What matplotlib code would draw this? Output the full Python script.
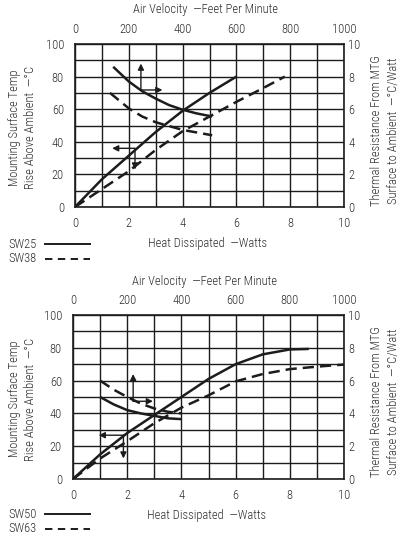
import matplotlib
matplotlib.use("Agg")
import matplotlib.pyplot as plt
from matplotlib.ticker import MultipleLocator

plt.rcParams['font.family'] = ['Roboto Condensed', 'Roboto', 'DejaVu Sans']
plt.rcParams['font.weight'] = 'light'

W, H = 400, 543
INK = '#1c1c1c'
TXT = '#2e2e2e'
FS = 9

# top panel: SW25 / SW38
watts_25 = [0, 1, 2, 3, 4, 5, 6]
temp_25 = [0, 17, 31.5, 46, 59, 70, 80]
watts_38 = [0, 1, 2, 3, 4, 5, 6, 7, 7.8]
temp_38 = [0, 11, 22, 35, 46.5, 55.5, 64.5, 73, 80]
fpm_25 = [142, 200, 250, 300, 350, 400, 450, 510]
res_25 = [8.6, 7.7, 7.1, 6.65, 6.25, 5.97, 5.75, 5.55]
fpm_38 = [130, 200, 250, 300, 400, 510]
res_38 = [7.0, 6.05, 5.55, 5.2, 4.73, 4.4]

# bottom panel: SW50 / SW63
watts_50 = [0, 1, 2, 3, 4, 5, 6, 7, 8, 8.7]
temp_50 = [0, 15, 28, 39, 50, 61, 70, 76, 79, 79.3]
watts_63 = [0, 1, 2, 3, 4, 5, 6, 7, 8, 9, 10]
temp_63 = [0, 12.5, 23, 34, 43.5, 51, 59.5, 64, 67, 68.5, 69.8]
fpm_50 = [100, 150, 200, 250, 300, 350, 400]
res_50 = [5.0, 4.55, 4.2, 4.0, 3.85, 3.7, 3.65]
fpm_63 = [100, 150, 200, 250, 300, 350, 400]
res_63 = [6.0, 5.45, 5.0, 4.6, 4.3, 4.1, 4.0]

watt_ticks = [0, 2, 4, 6, 8, 10]
temp_ticks = [0, 20, 40, 60, 80, 100]
fpm_ticks = [0, 200, 400, 600, 800, 1000]
res_ticks = [0, 2, 4, 6, 8, 10]

# arrow annotations: (start, end) in (watts, degC)
arrows_top = [((2.45, 71.8), (2.45, 88)), ((2.45, 71.8), (3.25, 71.8)),
              ((2.23, 36), (1.38, 36)), ((2.23, 36), (2.23, 23))]
arrows_bot = [((2.22, 47.4), (2.22, 64)), ((2.22, 47.4), (2.95, 47.4)),
              ((1.92, 26.7), (0.95, 26.7)), ((1.86, 26.7), (1.86, 12.5))]

fig = plt.figure(figsize=(W / 100, H / 100), dpi=100)


def px(x, y):
    return x / W, 1 - y / H


def panel(top_px, left_px, right_px, bot_px, curves, arrows, names, y0):
    l, b = left_px / W, 1 - bot_px / H
    w, h = (right_px - left_px) / W, (bot_px - top_px) / H
    ax = fig.add_axes([l, b, w, h])
    ax.set_xlim(0, 10)
    ax.set_ylim(0, 100)
    ax.set_xticks(watt_ticks, labels=[str(t) for t in watt_ticks])
    ax.set_yticks(temp_ticks, labels=[str(t) for t in temp_ticks])
    ax.xaxis.set_minor_locator(MultipleLocator(1))
    ax.yaxis.set_minor_locator(MultipleLocator(10))
    ax.grid(which='both', color=INK, lw=1.0)
    ax.tick_params(which='both', length=0, labelsize=FS, colors=TXT)
    ax.tick_params(axis='y', pad=8)
    ax.tick_params(axis='x', pad=7)
    for s in ax.spines.values():
        s.set_color(INK)
        s.set_linewidth(1.2)

    axr = fig.add_axes([l, b, w, h], frameon=False)
    axr.set_xlim(0, 1000)
    axr.set_ylim(0, 10)
    axr.xaxis.tick_top()
    axr.yaxis.tick_right()
    axr.set_xticks(fpm_ticks, labels=[str(t) for t in fpm_ticks])
    axr.set_yticks(res_ticks, labels=[str(t) for t in res_ticks])
    axr.tick_params(length=0, labelsize=FS, colors=TXT)
    axr.tick_params(axis='y', pad=3)
    axr.tick_params(axis='x', pad=6)

    (wa, ta, fa, ra), (wb, tb, fb, rb) = curves
    ax.plot(wa, ta, color=INK, lw=1.8, solid_capstyle='butt')
    ax.plot(wb, tb, color=INK, lw=1.8, ls=(0, (4.5, 2.4)))
    axr.plot(fa, ra, color=INK, lw=1.8, solid_capstyle='butt')
    axr.plot(fb, rb, color=INK, lw=1.8, ls=(0, (4.5, 2.4)))

    for (s, e) in arrows:
        ax.annotate('', xy=e, xytext=s,
                    arrowprops=dict(arrowstyle='-|>', color=INK, lw=1.0,
                                    mutation_scale=9, shrinkA=0, shrinkB=0))

    cx = (left_px + right_px) / 2
    fig.text(*px(cx - 4, top_px - 34), 'Air Velocity  —Feet Per Minute',
             ha='center', va='center', fontsize=FS, color=TXT)
    fig.text(*px(cx - 2, bot_px + 36), 'Heat Dissipated  —Watts',
             ha='center', va='center', fontsize=FS, color=TXT)
    fig.text(*px(23, (top_px + bot_px) / 2 + 2),
             'Mounting Surface Temp\nRise Above Ambient  —°C',
             rotation=90, ha='center', va='center', fontsize=FS,
             color=TXT, linespacing=1.3)
    fig.text(*px(385, (top_px + bot_px) / 2 + 5),
             'Thermal Resistance From MTG\nSurface to Ambient  —°C/Watt',
             rotation=90, ha='center', va='center', fontsize=FS,
             color=TXT, linespacing=1.3)

    for i, (name, style) in enumerate(zip(names, ['-', (0, (3.8, 2.8))])):
        yy = y0 + i * 15
        fig.text(*px(8, yy), name, ha='left', va='center', fontsize=FS, color=TXT)
        fig.add_artist(plt.Line2D([45 / W, 90 / W], [1 - yy / H] * 2,
                                  color=INK, lw=1.4, ls=style))


panel(44, 75, 344, 207,
      [(watts_25, temp_25, fpm_25, res_25), (watts_38, temp_38, fpm_38, res_38)],
      arrows_top, ['SW25', 'SW38'], 244)
panel(315, 73, 344, 479,
      [(watts_50, temp_50, fpm_50, res_50), (watts_63, temp_63, fpm_63, res_63)],
      arrows_bot, ['SW50', 'SW63'], 514)

fig.savefig('out.png', dpi=100)
